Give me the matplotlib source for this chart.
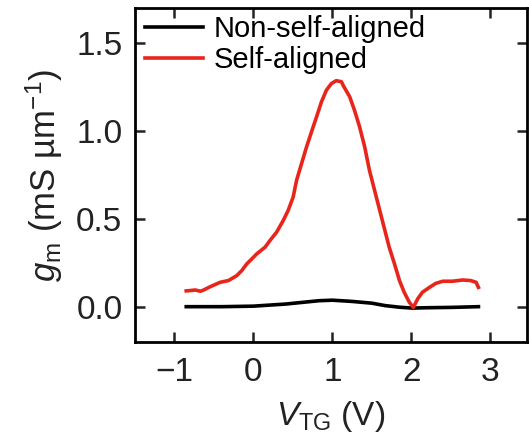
import matplotlib
matplotlib.use('Agg')
import matplotlib.pyplot as plt

plt.rcParams['font.family'] = ['Liberation Sans', 'DejaVu Sans']
plt.rcParams['mathtext.fontset'] = 'custom'
plt.rcParams['mathtext.rm'] = 'Liberation Sans'
plt.rcParams['mathtext.it'] = 'Liberation Sans:italic'

# gm vs top-gate voltage
v_self = [-0.85, -0.82, -0.735, -0.67, -0.63, -0.546, -0.42, -0.315, -0.21, -0.146,
          -0.083, -0.02, 0.043, 0.148, 0.21, 0.295, 0.378, 0.441, 0.504, 0.547,
          0.61, 0.673, 0.736, 0.80, 0.862, 0.925, 0.989, 1.05, 1.115, 1.135,
          1.22, 1.28, 1.345, 1.41, 1.47, 1.535, 1.60, 1.66, 1.72, 1.787,
          1.85, 1.91, 1.975, 2.026, 2.08, 2.14, 2.23, 2.31, 2.40, 2.52,
          2.65, 2.75, 2.82, 2.85]
gm_self = [0.09, 0.091, 0.095, 0.088, 0.095, 0.114, 0.139, 0.149, 0.177, 0.206,
           0.244, 0.272, 0.301, 0.339, 0.377, 0.425, 0.491, 0.549, 0.625, 0.72,
           0.815, 0.91, 0.996, 1.082, 1.167, 1.234, 1.272, 1.288, 1.282, 1.263,
           1.196, 1.12, 1.025, 0.91, 0.777, 0.663, 0.549, 0.444, 0.339, 0.244,
           0.149, 0.082, 0.025, -0.004, 0.044, 0.082, 0.11, 0.133, 0.145, 0.145,
           0.152, 0.149, 0.139, 0.11]

v_non = [-0.85, -0.40, 0.00, 0.41, 0.83, 1.00, 1.25, 1.50, 1.67, 1.85, 2.01, 2.20, 2.51, 2.85]
gm_non = [0.0, 0.0, 0.003, 0.015, 0.034, 0.037, 0.03, 0.02, 0.006, -0.003, -0.008, -0.006, -0.004, 0.0]

fig = plt.figure(figsize=(5.29, 4.41), dpi=100)
ax = fig.add_axes([0.255, 0.225, 0.742, 0.756])

ax.plot(v_non, gm_non, color='black', lw=2.6, label='Non-self-aligned')
ax.plot(v_self, gm_self, color='#e8251b', lw=2.6, label='Self-aligned')

ax.set_xlim(-1.5, 3.47)
ax.set_ylim(-0.2, 1.7)
ax.set_xticks([-1, 0, 1, 2, 3])
ax.set_yticks([0.0, 0.5, 1.0, 1.5])
ax.set_xticklabels(['\u22121', '0', '1', '2', '3'])
ax.set_yticklabels(['0.0', '0.5', '1.0', '1.5'])

for s in ax.spines.values():
    s.set_linewidth(2.0)
ax.tick_params(direction='in', top=True, right=True, length=7, width=1.8,
               labelsize=24, colors='#222222')
ax.tick_params(axis='x', pad=11)
ax.tick_params(axis='y', pad=9)

ax.set_xlabel('$V_{\\mathrm{TG}}$ (V)', fontsize=24, color='#222222', labelpad=8)
ax.set_ylabel('$g_{\\mathrm{m}}$ (mS \u00b5m$^{\\mathrm{-1}}$)', fontsize=25,
              color='#222222', labelpad=8)

ax.legend(loc='upper left', bbox_to_anchor=(0.022, 0.985), frameon=False,
          fontsize=21, handlelength=2.0, handletextpad=0.35, labelspacing=0.12,
          borderpad=0.05, borderaxespad=0)

fig.savefig('out.png', dpi=100)
